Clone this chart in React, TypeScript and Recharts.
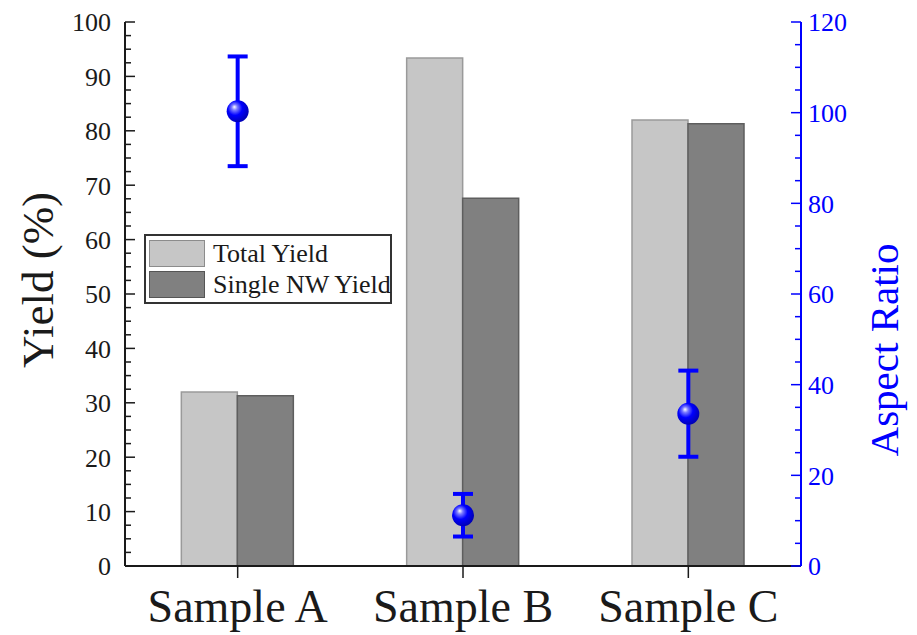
import React from 'react';
import { ComposedChart, Bar, Scatter, ErrorBar, XAxis, YAxis, Legend } from 'recharts';

const samples = ['Sample A', 'Sample B', 'Sample C'];
const totalYield = [32.0, 93.4, 82.0];
const singleNwYield = [31.3, 67.6, 81.3];
const aspectRatio = [100.3, 11.2, 33.6];
const aspectRatioErr = [12.1, 4.7, 9.5];

const yieldTicks = [
  0, 2.5, 5, 7.5, 10, 12.5, 15, 17.5, 20, 22.5, 25, 27.5, 30, 32.5, 35, 37.5, 40, 42.5, 45, 47.5,
  50, 52.5, 55, 57.5, 60, 62.5, 65, 67.5, 70, 72.5, 75, 77.5, 80, 82.5, 85, 87.5, 90, 92.5, 95, 97.5, 100,
];
const aspectTicks = [
  0, 5, 10, 15, 20, 25, 30, 35, 40, 45, 50, 55, 60, 65, 70, 75, 80, 85, 90, 95, 100, 105, 110, 115, 120,
];

const data = samples.map((s, i) => ({
  sample: s,
  total: totalYield[i],
  single: singleNwYield[i],
  ar: aspectRatio[i],
  arErr: aspectRatioErr[i],
}));

const FONT = '"Liberation Serif", "Times New Roman", serif';
const BLUE = '#0000ff';
const INK = '#1a1a1a';

// tickSize=1, tickMargin=0 => the tick's text anchor sits 1px outside the axis line
const LeftTick = (props: any) => {
  const { x, y, payload } = props;
  const ax = x + 1;
  const v = payload.value;
  const major = v % 10 === 0;
  return (
    <g>
      <line x1={ax} x2={ax + (major ? 10 : 6)} y1={y} y2={y} stroke={INK} strokeWidth={1.5} />
      {major && (
        <text x={ax - 14} y={y} dy="0.36em" textAnchor="end" fontSize={26} fontFamily={FONT} fill={INK}>
          {v}
        </text>
      )}
    </g>
  );
};

const RightTick = (props: any) => {
  const { x, y, payload } = props;
  const ax = x - 1;
  const v = payload.value;
  const major = v % 20 === 0;
  return (
    <g>
      <line x1={ax} x2={ax - (major ? 10 : 6)} y1={y} y2={y} stroke={BLUE} strokeWidth={1.5} />
      {major && (
        <text x={ax + 7} y={y} dy="0.36em" textAnchor="start" fontSize={26} fontFamily={FONT} fill={BLUE}>
          {v}
        </text>
      )}
    </g>
  );
};

const BottomTick = (props: any) => {
  const { x, y, payload } = props;
  const ay = y - 1;
  return (
    <g>
      <line x1={x} x2={x} y1={ay} y2={ay + 12} stroke={INK} strokeWidth={1.5} />
      <text x={x} y={ay + 56} textAnchor="middle" fontSize={46} fontFamily={FONT} fill={INK}>
        {payload.value}
      </text>
    </g>
  );
};

const LeftLabel = (props: any) => {
  const vb = props.viewBox || {};
  const cx = vb.x + 29;
  const cy = vb.y + vb.height / 2 - 14;
  return (
    <text
      x={cx}
      y={cy}
      transform={`rotate(-90 ${cx} ${cy})`}
      textAnchor="middle"
      dy="0.35em"
      fontSize={45}
      fontFamily={FONT}
      fill={INK}
    >
      Yield (%)
    </text>
  );
};

const RightLabel = (props: any) => {
  const vb = props.viewBox || {};
  const cx = vb.x + 83;
  const cy = vb.y + vb.height / 2 + 56;
  return (
    <text
      x={cx}
      y={cy}
      transform={`rotate(-90 ${cx} ${cy})`}
      textAnchor="middle"
      dy="0.35em"
      fontSize={41}
      fontFamily={FONT}
      fill={BLUE}
    >
      Aspect Ratio
    </text>
  );
};

const Sphere = (props: any) => {
  const { cx, cy } = props;
  return (
    <g>
      <defs>
        <radialGradient id="sphereGrad" cx="40%" cy="40%" r="60%" fx="35%" fy="30%">
          <stop offset="0%" stopColor="#ffffff" />
          <stop offset="22%" stopColor="#7a7aff" />
          <stop offset="55%" stopColor="#0000ff" />
          <stop offset="100%" stopColor="#0000b8" />
        </radialGradient>
      </defs>
      <circle cx={cx} cy={cy} r={11} fill="url(#sphereGrad)" />
    </g>
  );
};

const LegendBox = () => {
  const row = (label: string, fill: string, stroke: string, top: number) => (
    <div style={{ position: 'absolute', left: 3, top, height: 27, display: 'flex', alignItems: 'center' }}>
      <div style={{ width: 54, height: 25, background: fill, border: `1px solid ${stroke}` }} />
      <span style={{ marginLeft: 8, fontSize: 26, fontFamily: FONT, color: INK, lineHeight: '27px', whiteSpace: 'nowrap' }}>
        {label}
      </span>
    </div>
  );
  return (
    <div
      style={{
        position: 'relative',
        width: 244,
        height: 66,
        border: '2px solid #333',
        background: '#fff',
      }}
    >
      {row('Total Yield', '#c6c6c6', '#8c8c8c', 4)}
      {row('Single NW Yield', '#808080', '#555555', 35)}
    </div>
  );
};

export default function App() {
  return (
    <ComposedChart
      width={909}
      height={627}
      data={data}
      margin={{ top: 14, right: 0, bottom: 0, left: 0 }}
      barCategoryGap="25%"
      barGap={0}
      style={{ fontFamily: FONT }}
    >
      <XAxis
        dataKey="sample"
        xAxisId="top"
        orientation="top"
        height={0}
        tick={false}
        tickLine={false}
        axisLine={{ stroke: INK, strokeWidth: 2 }}
      />
      <XAxis
        dataKey="sample"
        height={69}
        tickSize={1}
        tickMargin={0}
        tickLine={false}
        tick={<BottomTick />}
        axisLine={{ stroke: INK, strokeWidth: 2 }}
        interval={0}
      />
      <YAxis
        yAxisId="left"
        orientation="left"
        width={117}
        domain={[0, 100]}
        ticks={yieldTicks}
        interval={0}
        tickSize={1}
        tickMargin={0}
        tickLine={false}
        tick={<LeftTick />}
        axisLine={{ stroke: INK, strokeWidth: 2 }}
        label={<LeftLabel />}
      />
      <YAxis
        yAxisId="right"
        orientation="right"
        width={116}
        domain={[0, 120]}
        ticks={aspectTicks}
        interval={0}
        tickSize={1}
        tickMargin={0}
        tickLine={false}
        tick={<RightTick />}
        axisLine={{ stroke: BLUE, strokeWidth: 2 }}
        label={<RightLabel />}
      />
      <Legend
        layout="horizontal"
        verticalAlign="middle"
        align="center"
        content={() => <LegendBox />}
        wrapperStyle={{ left: 136, top: 226, width: 'auto', height: 'auto' }}
      />
      <Bar
        yAxisId="left"
        dataKey="total"
        name="Total Yield"
        fill="#c6c6c6"
        stroke="#9a9a9a"
        strokeWidth={1.5}
        isAnimationActive={false}
      />
      <Bar
        yAxisId="left"
        dataKey="single"
        name="Single NW Yield"
        fill="#808080"
        stroke="#5e5e5e"
        strokeWidth={1.5}
        isAnimationActive={false}
      />
      <Scatter
        yAxisId="right"
        dataKey="ar"
        name="Aspect Ratio"
        fill={BLUE}
        shape={<Sphere />}
        isAnimationActive={false}
        legendType="none"
      >
        <ErrorBar dataKey="arErr" direction="y" width={10} strokeWidth={4} stroke={BLUE} isAnimationActive={false} />
      </Scatter>
    </ComposedChart>
  );
}
